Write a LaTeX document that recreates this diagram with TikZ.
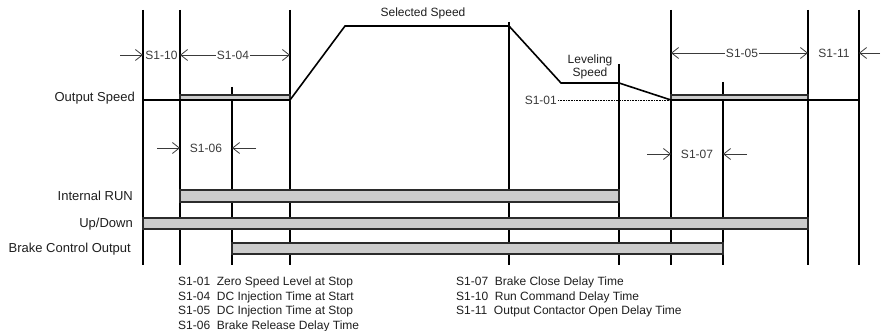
\documentclass[tikz,border=0pt]{standalone}
\usepackage{fontspec}
\setmainfont{Liberation Sans}
\usetikzlibrary{arrows.meta, positioning, calc}
\definecolor{barfill}{HTML}{CCCCCC}
\definecolor{barline}{HTML}{2B2B2B}
\definecolor{dimgray}{HTML}{3A3A3A}
\definecolor{txt}{HTML}{1E1E1E}

\begin{document}
\begin{tikzpicture}[x=1pt, y=-1pt,
  >={Straight Barb[length=7pt, width=11pt]},
  tline/.style={black, line width=1.1pt},
  speed/.style={black, line width=1.6pt},
  sigbar/.style={fill=barfill, draw=barline, line width=1.2pt},
  dimarrow/.style={dimgray, line width=0.8pt, ->},
  dimlabel/.style={text=dimgray, font=\fontsize{12}{14}\selectfont, inner sep=1pt},
  siglabel/.style={text=txt, font=\fontsize{13}{15}\selectfont, anchor=east, inner sep=0pt},
  legend/.style={text=txt, font=\fontsize{12}{14}\selectfont, anchor=west, inner sep=0pt}]

% Frame (bounding box)
\useasboundingbox (0,0) rectangle (883,331);

% Time marks
\foreach \x/\top/\n in {143/10/ta, 180/10/tb, 232/87/tc, 290/10/td, 509/22/te,
                        619/64/tf, 671/10/tg, 723/82/th, 808/10/ti, 859/10/tj} {
  \draw[tline] (\x,\top) coordinate (\n) -- (\x,265) coordinate (\n bot);
}

% Output speed
\node[siglabel] (outspd) at (135,98) {Output Speed};
\draw[sigbar] (180,95) rectangle (290,100);
\draw[sigbar] (671,95) rectangle (808,100);
\draw[speed] (143,100) -- (290,100) -- (345,26) -- (509,26) -- (561,83)
  -- (619,83) -- (671,100) -- (859,100);

% Zero speed level
\node[dimlabel, anchor=east] (s101) at (558,100) {S1-01};
\draw[black, line width=0.6pt, densely dotted] (s101.east) -- (s101.east -| tg);

% Speed labels
\node[text=txt, font=\fontsize{12}{14}\selectfont] (selspd) at (423,13) {Selected Speed};
\node[text=txt, font=\fontsize{12}{13}\selectfont, align=center] (levspd) at (590,67)
  {Leveling\\Speed};

% Upper time spans
\node[dimlabel] (s110) at (161.5,55) {S1-10};
\coordinate (s110in) at (120,55);
\draw[dimarrow] (s110in) -- (s110in -| ta);

\node[dimlabel] (s104) at (233,55) {S1-04};
\draw[dimarrow] (s104.west) -- (s104.west -| tb);
\draw[dimarrow] (s104.east) -- (s104.east -| td);

\node[dimlabel] (s105) at (742,53) {S1-05};
\draw[dimarrow] (s105.west) -- (s105.west -| tg);
\draw[dimarrow] (s105.east) -- (s105.east -| ti);

\node[dimlabel] (s111) at (834,53) {S1-11};
\coordinate (s111in) at (880,53);
\draw[dimarrow] (s111in) -- (s111in -| tj);

% Lower time spans
\node[dimlabel] (s106) at (206,148) {S1-06};
\coordinate (s106l) at (157,148);
\coordinate (s106r) at (256,148);
\draw[dimarrow] (s106l) -- (s106l -| tb);
\draw[dimarrow] (s106r) -- (s106r -| tc);

\node[dimlabel] (s107) at (697,154) {S1-07};
\coordinate (s107l) at (647,154);
\coordinate (s107r) at (747,154);
\draw[dimarrow] (s107l) -- (s107l -| tg);
\draw[dimarrow] (s107r) -- (s107r -| th);

% Signals
\node[siglabel] (irun) at (133,196) {Internal RUN};
\draw[sigbar] (180,190) rectangle (619,202);
\node[siglabel] (updn) at (133,224) {Up/Down};
\draw[sigbar] (143,218) rectangle (808,229);
\node[siglabel] (brake) at (131,249) {Brake Control Output};
\draw[sigbar] (232,243) rectangle (723,254);

% Legend
\foreach \y/\code/\desc in {282/S1-01/Zero Speed Level at Stop,
                            297/S1-04/DC Injection Time at Start,
                            311/S1-05/DC Injection Time at Stop,
                            326/S1-06/Brake Release Delay Time} {
  \node[legend] at (178,\y) {\code\ \ \desc};
}
\foreach \y/\code/\desc in {282/S1-07/Brake Close Delay Time,
                            297/S1-10/Run Command Delay Time,
                            311/S1-11/Output Contactor Open Delay Time} {
  \node[legend] at (456,\y) {\code\ \ \desc};
}

\end{tikzpicture}
\end{document}
